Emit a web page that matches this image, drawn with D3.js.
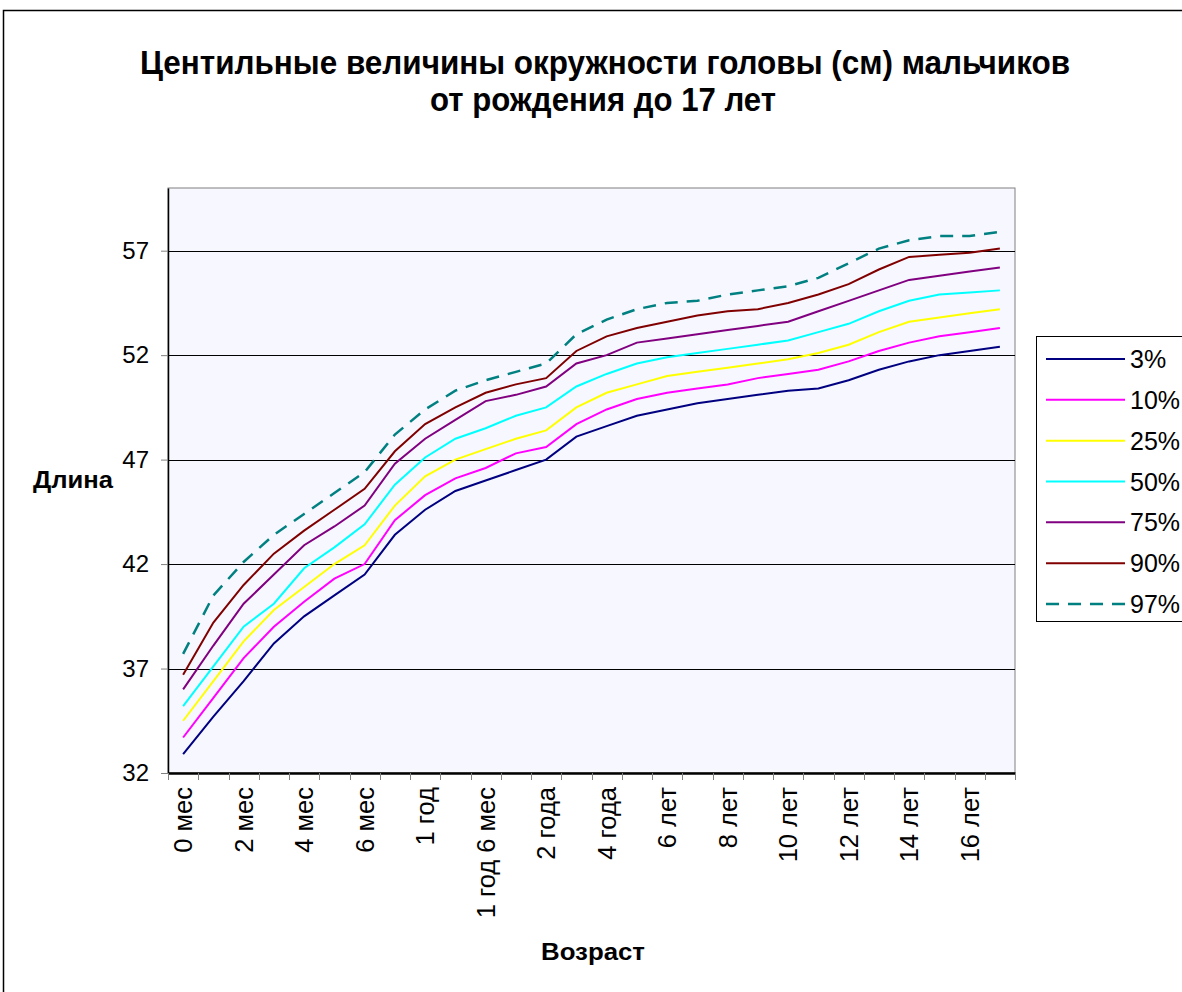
<!DOCTYPE html>
<html>
<head>
<meta charset="utf-8">
<script src="https://cdn.jsdelivr.net/npm/d3@7"></script>
<style>
  body { margin: 0; background: #fff; }
  svg { display: block; font-family: "Liberation Sans", Arial, sans-serif; }
</style>
</head>
<body>
<svg id="chart"></svg>
<script>
// categories (age points)
const ages = ["0 мес", "1 мес", "2 мес", "3 мес", "4 мес", "5 мес", "6 мес", "9 мес",
  "1 год", "1 год 3 мес", "1 год 6 мес", "1 год 9 мес", "2 года", "3 года", "4 года",
  "5 лет", "6 лет", "7 лет", "8 лет", "9 лет", "10 лет", "11 лет", "12 лет", "13 лет",
  "14 лет", "15 лет", "16 лет", "17 лет"];

// centile values, cm
const p3 = [32.9, 34.7, 36.4, 38.2, 39.5, 40.5, 41.5, 43.4, 44.6, 45.5, 46.0, 46.5, 47.0, 48.1, 48.6, 49.1, 49.4, 49.7, 49.9, 50.1, 50.3, 50.4, 50.8, 51.3, 51.7, 52.0, 52.2, 52.4];
const p10 = [33.7, 35.6, 37.5, 39.0, 40.2, 41.3, 42.0, 44.1, 45.3, 46.1, 46.6, 47.3, 47.6, 48.7, 49.4, 49.9, 50.2, 50.4, 50.6, 50.9, 51.1, 51.3, 51.7, 52.2, 52.6, 52.9, 53.1, 53.3];
const p25 = [34.5, 36.4, 38.3, 39.8, 40.9, 42.0, 42.9, 44.8, 46.2, 47.0, 47.5, 48.0, 48.4, 49.5, 50.2, 50.6, 51.0, 51.2, 51.4, 51.6, 51.8, 52.1, 52.5, 53.1, 53.6, 53.8, 54.0, 54.2];
const p50 = [35.2, 37.1, 39.0, 40.1, 41.8, 42.8, 43.9, 45.8, 47.1, 48.0, 48.5, 49.1, 49.5, 50.5, 51.1, 51.6, 51.9, 52.1, 52.3, 52.5, 52.7, 53.1, 53.5, 54.1, 54.6, 54.9, 55.0, 55.1];
const p75 = [36.0, 38.1, 40.1, 41.5, 42.9, 43.8, 44.8, 46.8, 48.0, 48.9, 49.8, 50.1, 50.5, 51.6, 52.0, 52.6, 52.8, 53.0, 53.2, 53.4, 53.6, 54.1, 54.6, 55.1, 55.6, 55.8, 56.0, 56.2];
const p90 = [36.7, 39.2, 41.0, 42.5, 43.6, 44.6, 45.6, 47.4, 48.7, 49.5, 50.2, 50.6, 50.9, 52.2, 52.9, 53.3, 53.6, 53.9, 54.1, 54.2, 54.5, 54.9, 55.4, 56.1, 56.7, 56.8, 56.9, 57.1];
const p97 = [37.7, 40.5, 42.1, 43.4, 44.4, 45.4, 46.4, 48.2, 49.4, 50.3, 50.8, 51.2, 51.6, 53.0, 53.7, 54.2, 54.5, 54.6, 54.9, 55.1, 55.3, 55.7, 56.4, 57.1, 57.5, 57.7, 57.7, 57.9];

const seriesNames = ["3%", "10%", "25%", "50%", "75%", "90%", "97%"];
const yTicks = [32, 37, 42, 47, 52, 57];

const series = [
  { name: "3%", values: p3, color: "#000080", dash: null },
  { name: "10%", values: p10, color: "#FF00FF", dash: null },
  { name: "25%", values: p25, color: "#FFFF00", dash: null },
  { name: "50%", values: p50, color: "#00FFFF", dash: null },
  { name: "75%", values: p75, color: "#800080", dash: null },
  { name: "90%", values: p90, color: "#800000", dash: null },
  { name: "97%", values: p97, color: "#008080", dash: "13,9" }
];

const W = 1182, H = 992;
const plot = { left: 168, top: 188, right: 1015, bottom: 773 };

const svg = d3.select("#chart").attr("width", W).attr("height", H);

// outer chart frame (runs off the right/bottom edge like the original)
svg.append("rect")
  .attr("x", 3.5).attr("y", 10.5)
  .attr("width", 1300).attr("height", 1100)
  .attr("fill", "#fff").attr("stroke", "#000").attr("stroke-width", 1.5);

// title - squeezed like the original
const title = svg.append("g").attr("font-weight", "bold").attr("font-size", 33).attr("fill", "#000");
title.append("text")
  .attr("x", 140).attr("y", 74)
  .attr("textLength", 930).attr("lengthAdjust", "spacingAndGlyphs")
  .text("Центильные величины окружности головы (см) мальчиков");
title.append("text")
  .attr("x", 430).attr("y", 111)
  .attr("textLength", 346).attr("lengthAdjust", "spacingAndGlyphs")
  .text("от рождения до 17 лет");

// scales
const x = d3.scaleBand().domain(ages).range([plot.left, plot.right]).padding(0);
const y = d3.scaleLinear().domain([32, 60]).range([plot.bottom, plot.top]);
const cx = (d) => x(d) + x.bandwidth() / 2;

// plot background
svg.append("rect")
  .attr("x", plot.left).attr("y", plot.top)
  .attr("width", plot.right - plot.left).attr("height", plot.bottom - plot.top)
  .attr("fill", "#F6F7FF").attr("stroke", "#808080").attr("stroke-width", 1);

// gridlines
svg.append("g")
  .selectAll("line")
  .data(yTicks.slice(1))
  .join("line")
  .attr("x1", plot.left).attr("x2", plot.right)
  .attr("y1", (d) => Math.round(y(d)) + 0.5).attr("y2", (d) => Math.round(y(d)) + 0.5)
  .attr("stroke", "#000").attr("stroke-width", 1);

// y axis
const yAxisG = svg.append("g")
  .attr("transform", `translate(${plot.left},0)`)
  .call(d3.axisLeft(y).tickValues(yTicks).tickSize(7).tickPadding(12).tickSizeOuter(0));
yAxisG.select(".domain").attr("stroke", "#000").attr("stroke-width", 1.5);
yAxisG.selectAll(".tick line").attr("stroke", "#808080");
yAxisG.selectAll(".tick text")
  .attr("font-size", 24).attr("fill", "#000")
  .attr("font-family", "Liberation Sans, Arial, sans-serif");

// x axis: labels every other category, tick marks at category boundaries
const xAxisG = svg.append("g")
  .attr("transform", `translate(0,${plot.bottom})`)
  .call(d3.axisBottom(x)
    .tickValues(ages.filter((d, i) => i % 2 === 0))
    .tickSize(0).tickSizeOuter(0));
xAxisG.select(".domain").attr("stroke", "#000").attr("stroke-width", 2.5);
xAxisG.selectAll(".tick text")
  .attr("font-size", 25.5).attr("fill", "#000")
  .attr("font-family", "Liberation Sans, Arial, sans-serif")
  .attr("transform", "rotate(-90)")
  .attr("text-anchor", "end")
  .attr("x", -14).attr("y", 0).attr("dy", "0.35em");

svg.append("g")
  .selectAll("line")
  .data(ages.map((d) => x(d)).concat([plot.right]))
  .join("line")
  .attr("x1", (d) => Math.round(d) + 0.5).attr("x2", (d) => Math.round(d) + 0.5)
  .attr("y1", plot.bottom).attr("y2", plot.bottom + 7)
  .attr("stroke", "#808080").attr("stroke-width", 1);

// axis titles
svg.append("text")
  .attr("x", 33).attr("y", 488)
  .attr("font-size", 23).attr("font-weight", "bold")
  .attr("textLength", 80).attr("lengthAdjust", "spacingAndGlyphs")
  .text("Длина");
svg.append("text")
  .attr("x", 541).attr("y", 960)
  .attr("font-size", 23).attr("font-weight", "bold")
  .attr("textLength", 104).attr("lengthAdjust", "spacingAndGlyphs")
  .text("Возраст");

// lines
const line = d3.line()
  .x((d, i) => cx(ages[i]))
  .y((d) => y(d));

svg.append("g")
  .selectAll("path")
  .data(series)
  .join("path")
  .attr("d", (d) => line(d.values))
  .attr("fill", "none")
  .attr("stroke", (d) => d.color)
  .attr("stroke-width", (d) => (d.dash ? 2.5 : 2))
  .attr("stroke-dasharray", (d) => d.dash);

// legend
const legend = svg.append("g");
legend.append("rect")
  .attr("x", 1036.5).attr("y", 336.5)
  .attr("width", 200).attr("height", 285)
  .attr("fill", "#fff").attr("stroke", "#000").attr("stroke-width", 1);

const ly = d3.scalePoint().domain(seriesNames).range([359, 604]);
const items = legend.selectAll("g.item")
  .data(series)
  .join("g")
  .attr("class", "item")
  .attr("transform", (d) => `translate(0,${ly(d.name)})`);
items.append("line")
  .attr("x1", 1046).attr("x2", 1125)
  .attr("stroke", (d) => d.color)
  .attr("stroke-width", (d) => (d.dash ? 2.5 : 2))
  .attr("stroke-dasharray", (d) => d.dash);
items.append("text")
  .attr("x", 1130).attr("dy", "0.36em")
  .attr("font-size", 25)
  .text((d) => d.name);
</script>
</body>
</html>
